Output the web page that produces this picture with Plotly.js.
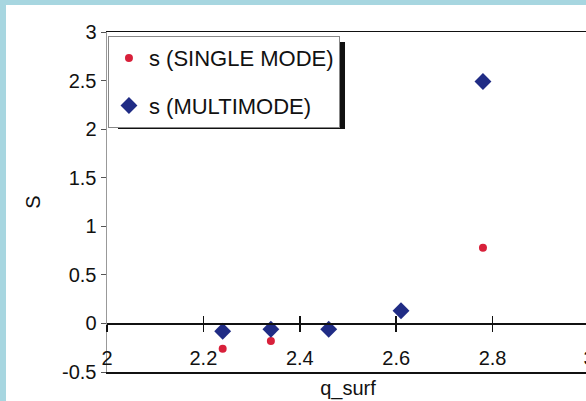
<!DOCTYPE html>
<html>
<head>
<meta charset="utf-8">
<script src="https://cdn.plot.ly/plotly-3.0.1.min.js"></script>
<style>
html,body{margin:0;padding:0;width:586px;height:401px;overflow:hidden;background:#a7d6e0;}
#chart{position:absolute;left:6px;top:5px;width:600px;height:396px;}
</style>
</head>
<body>
<div id="chart"></div>
<script>
// Data
const singleX = [2.24, 2.34, 2.78];
const singleY = [-0.26, -0.18, 0.78];
const multiX = [2.24, 2.34, 2.46, 2.61, 2.78];
const multiY = [-0.08, -0.06, -0.06, 0.13, 2.49];
const xTickVals = [2, 2.2, 2.4, 2.6, 2.8, 3];
const xTickText = ['2', '2.2', '2.4', '2.6', '2.8', '3'];
const yTickVals = [-0.5, 0, 0.5, 1, 1.5, 2, 2.5, 3];
const yTickText = ['-0.5', '0', '0.5', '1', '1.5', '2', '2.5', '3'];
const seriesNames = ['s (SINGLE MODE)', 's (MULTIMODE)'];

const FONT = 'Liberation Sans, Arial, sans-serif';

const traces = [
  {x: singleX, y: singleY, name: seriesNames[0], mode: 'markers', type: 'scatter',
   legendgroup: 'a',
   marker: {symbol: 'circle', size: 8, color: '#d8203a'}},
  {x: multiX, y: multiY, name: seriesNames[1], mode: 'markers', type: 'scatter',
   legendgroup: 'b',
   marker: {symbol: 'diamond', size: 13, color: '#202c85'}}
];

const layout = {
  width: 600, height: 396,
  margin: {l: 101, r: 17, t: 27, b: 29},
  paper_bgcolor: '#ffffff', plot_bgcolor: '#ffffff',
  font: {family: FONT, size: 20, color: '#111'},
  showlegend: true,
  legend: {
    x: 0.002, y: 0.988, xanchor: 'left', yanchor: 'top',
    bgcolor: '#ffffff', bordercolor: '#888', borderwidth: 1,
    font: {family: FONT, size: 22, color: '#111'},
    traceorder: 'grouped', tracegroupgap: 16
  },
  xaxis: {
    range: [2, 3], showgrid: false, zeroline: false,
    showline: true, linecolor: '#111', linewidth: 1.5, mirror: true,
    ticks: '', showticklabels: false,
    title: {text: 'q_surf', standoff: 8, font: {family: FONT, size: 20}}
  },
  xaxis2: {
    range: [2, 3], overlaying: 'x', anchor: 'free', position: 0.5 / 3.5,
    showgrid: false, zeroline: false,
    showline: true, linecolor: '#111', linewidth: 1.5,
    ticks: 'outside', ticklen: 7, tickwidth: 1.5, tickcolor: '#111',
    tickvals: xTickVals, ticktext: xTickText, ticklabelstandoff: 9
  },
  xaxis3: {
    range: [2, 3], overlaying: 'x', anchor: 'free', position: 0.5 / 3.5,
    showgrid: false, zeroline: false, showline: false,
    ticks: 'inside', ticklen: 7, tickwidth: 1.5, tickcolor: '#111',
    tickvals: xTickVals, showticklabels: false
  },
  yaxis: {
    range: [-0.5, 3], showgrid: false, zeroline: false,
    showline: true, linecolor: '#999', linewidth: 1.5,
    ticks: 'outside', ticklen: 5, tickcolor: '#555',
    tickvals: yTickVals, ticktext: yTickText,
    title: {text: 'S', standoff: 16, font: {family: FONT, size: 20}}
  },
  shapes: [
    {type: 'rect', xref: 'paper', yref: 'paper',
     x0: 0.0228, x1: 0.4938, y0: 0.7147, y1: 0.9706,
     fillcolor: '#111', line: {width: 0}, layer: 'above'}
  ]
};

// dummy traces so the overlay axes are drawn
traces.push({x: [2], y: [null], xaxis: 'x2', showlegend: false, hoverinfo: 'skip', type: 'scatter', mode: 'markers'});
traces.push({x: [2], y: [null], xaxis: 'x3', showlegend: false, hoverinfo: 'skip', type: 'scatter', mode: 'markers'});

Plotly.newPlot('chart', traces, layout, {staticPlot: true, displayModeBar: false});
</script>
</body>
</html>
